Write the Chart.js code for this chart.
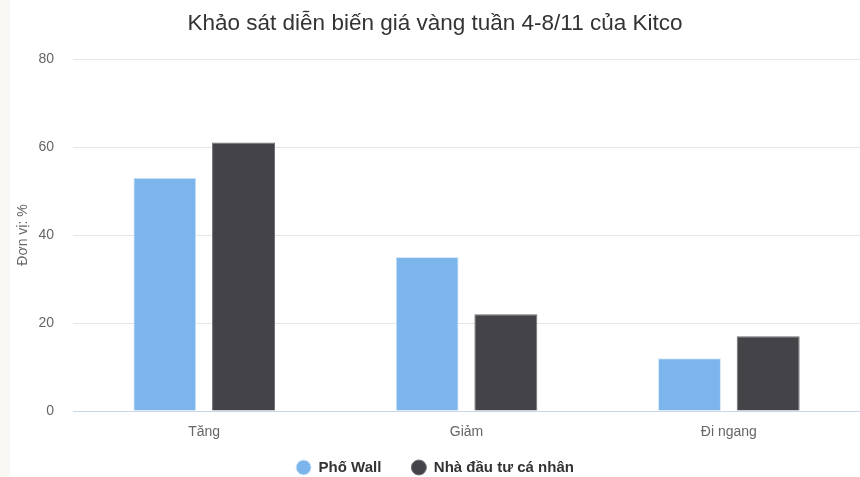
<!DOCTYPE html>
<html>
<head>
<meta charset="utf-8">
<script src="https://cdn.jsdelivr.net/npm/chart.js@4.4.0/dist/chart.umd.min.js"></script>
<style>
    html, body { margin: 0; padding: 0; background: #faf8f4; }
    #wrap { position: absolute; left: 10px; top: 0; width: 850px; height: 477px; background: #fff; }
</style>
</head>
<body>
<div id="wrap"><canvas id="chart"></canvas></div>
<script>
    // --- DATA ---
    const categories = ['Tăng', 'Giảm', 'Đi ngang'];
    const wallStreet = [53, 35, 12];
    const retail = [61, 22, 17];
    const yTicks = [0, 20, 40, 60, 80];

    const FONT = '"Liberation Sans", Arial, sans-serif';

    const ctx = document.getElementById('chart').getContext('2d');
    new Chart(ctx, {
        type: 'bar',
        data: {
            labels: categories,
            datasets: [
                {
                    label: 'Phố Wall',
                    data: wallStreet,
                    backgroundColor: '#7cb5ec',
                    borderColor: '#d6e8fa',
                    borderWidth: 1
                },
                {
                    label: 'Nhà đầu tư cá nhân',
                    data: retail,
                    backgroundColor: '#434348',
                    borderColor: '#6e6e73',
                    borderWidth: 1
                }
            ]
        },
        options: {
            responsive: true,
            maintainAspectRatio: false,
            animation: false,
            categoryPercentage: 0.6,
            barPercentage: 0.8,
            layout: { padding: { left: 0, right: 0, top: 0, bottom: -8 } },
            plugins: {
                title: {
                    display: true,
                    text: 'Khảo sát diễn biến giá vàng tuần 4-8/11 của Kitco',
                    color: '#333333',
                    font: { family: FONT, size: 22.5, weight: 'normal' },
                    padding: { top: 10.5, bottom: 21.5 }
                },
                legend: {
                    position: 'bottom',
                    labels: {
                        usePointStyle: true,
                        pointStyle: 'circle',
                        boxHeight: 10.6,
                        padding: 30,
                        color: '#333333',
                        font: { family: FONT, size: 15, weight: 'bold' }
                    }
                },
                tooltip: { enabled: false }
            },
            scales: {
                x: {
                    grid: { display: false, drawTicks: false },
                    border: { display: true, color: '#ccd6eb', width: 1 },
                    ticks: {
                        color: '#666666',
                        padding: 13,
                        font: { family: FONT, size: 14 }
                    },
                    afterFit: (scale) => {
                        scale.height = 19;
                        // labels sit below the thin axis box, so don't clip them
                        scale._computeLabelArea = () => undefined;
                    }
                },
                y: {
                    min: 0,
                    max: 80,
                    afterBuildTicks: (scale) => { scale.ticks = yTicks.map(v => ({ value: v })); },
                    grid: { color: '#e6e6e6', drawTicks: false },
                    border: { display: false },
                    ticks: {
                        color: '#666666',
                        padding: 19,
                        font: { family: FONT, size: 14 }
                    },
                    title: {
                        display: true,
                        text: 'Đơn vị: %',
                        color: '#666666',
                        padding: { top: 5, bottom: 0 },
                        font: { family: FONT, size: 14 }
                    },
                    afterFit: (scale) => { scale.width = 63; }
                }
            }
        }
    });
</script>
</body>
</html>
